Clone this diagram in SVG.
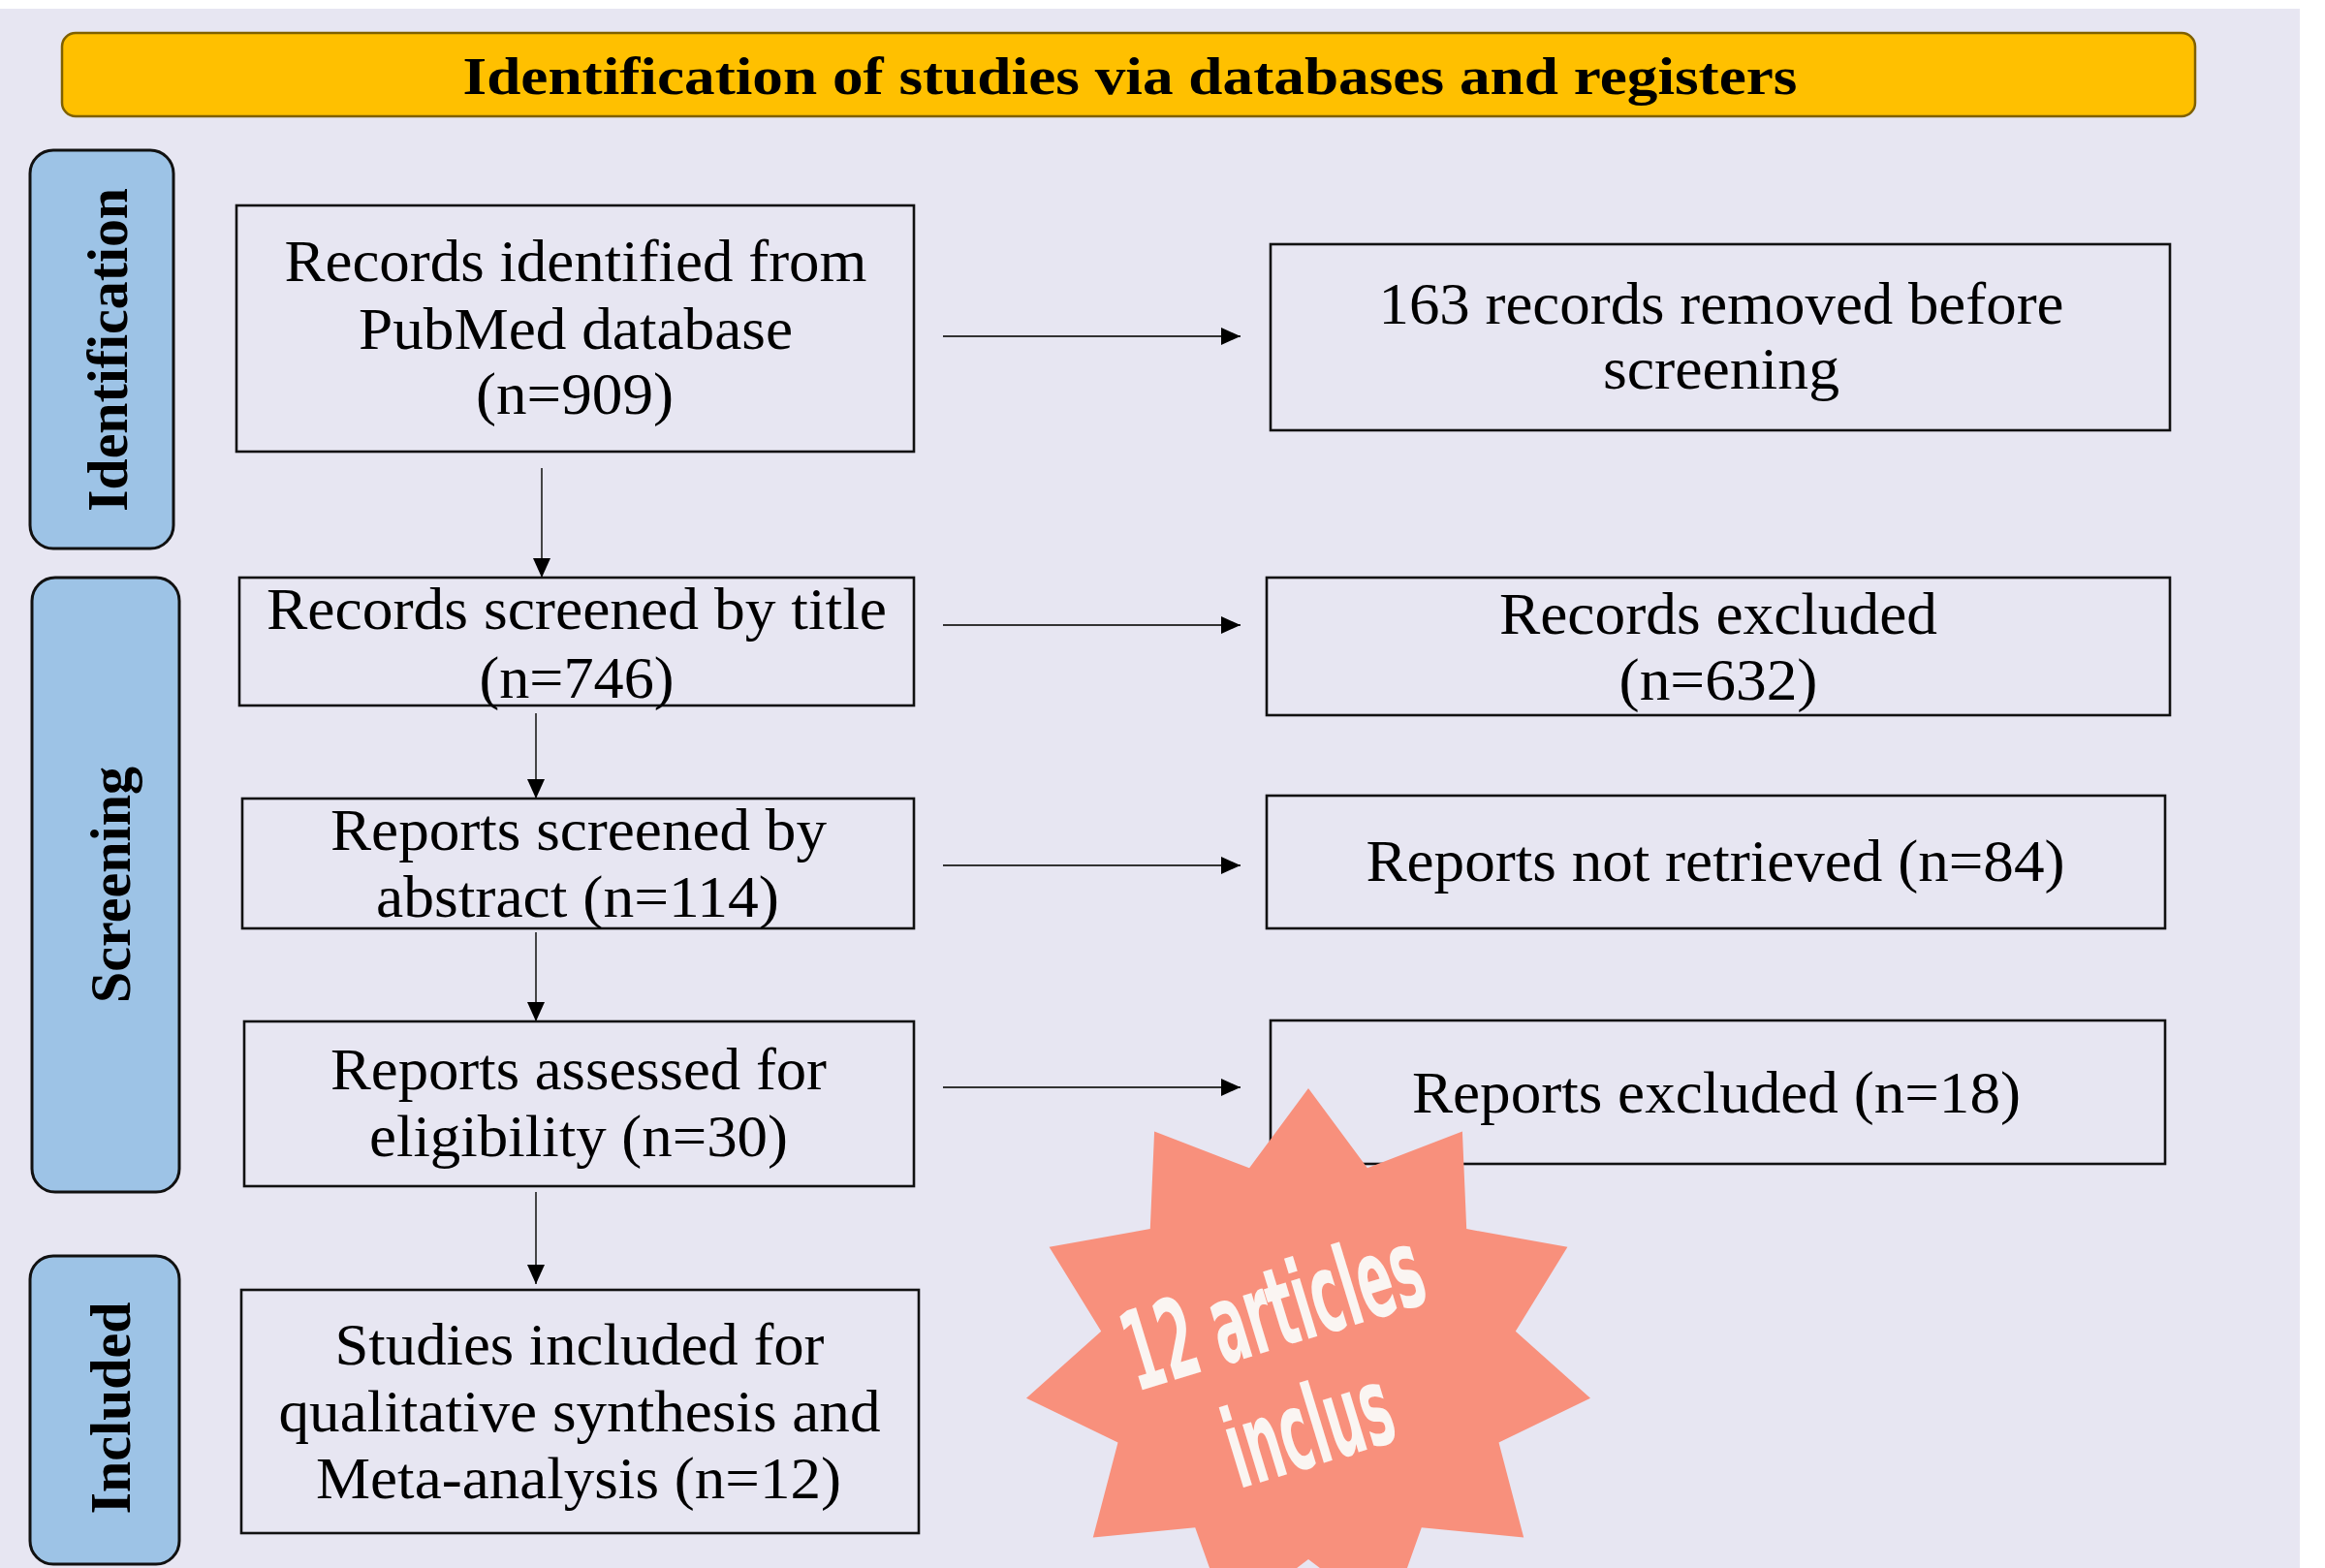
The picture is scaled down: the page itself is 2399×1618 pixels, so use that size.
<svg xmlns="http://www.w3.org/2000/svg" width="2399" height="1618" viewBox="0 0 2399 1618">
<style>
.bg{fill:#E7E6F2}
.box{fill:none;stroke:#111;stroke-width:2.6}
.side{fill:#9DC3E6;stroke:#111;stroke-width:3}
.t{font-family:"Liberation Serif","Times New Roman",serif;font-size:62px;fill:#000;text-anchor:middle}
.sl{font-family:"Liberation Serif","Times New Roman",serif;font-size:60px;font-weight:bold;fill:#000;text-anchor:middle}
.title{font-family:"Liberation Serif","Times New Roman",serif;font-size:54px;font-weight:bold;fill:#000;text-anchor:middle}
.conn{stroke:#333;stroke-width:1.8;fill:none;marker-end:url(#ah)}
.star{font-family:"Liberation Sans Narrow","DejaVu Sans Condensed","Liberation Sans",sans-serif;font-size:114px;font-weight:bold;fill:#FAF5F2;text-anchor:middle}
</style>
<defs>
<marker id="ah" markerUnits="userSpaceOnUse" markerWidth="20" markerHeight="20" viewBox="0 0 20 20" refX="20" refY="10" orient="auto">
<path d="M0,1 L20,10 L0,19 Z" fill="#000"/>
</marker>
</defs>
<rect x="0" y="0" width="2399" height="1618" fill="#FFFFFF"/>
<rect class="bg" x="0" y="9" width="2373" height="1609"/>

<g id="banner">
<rect x="64" y="34" width="2201" height="86" rx="14" fill="#FFC000" stroke="#7F6000" stroke-width="2.5"/>
<text class="title" x="1166" y="97" textLength="1377" lengthAdjust="spacingAndGlyphs">Identification of studies via databases and registers</text>
</g>

<g id="side-identification">
<rect class="side" x="31" y="155" width="148" height="411" rx="24"/>
<text class="sl" transform="translate(131,361) rotate(-90)" textLength="334" lengthAdjust="spacingAndGlyphs">Identification</text>
</g>
<g id="side-screening">
<rect class="side" x="33" y="596" width="152" height="634" rx="24"/>
<text class="sl" transform="translate(134,913) rotate(-90)" textLength="244" lengthAdjust="spacingAndGlyphs">Screening</text>
</g>
<g id="side-included">
<rect class="side" x="31" y="1296" width="154" height="318" rx="24"/>
<text class="sl" transform="translate(134,1453) rotate(-90)" textLength="219" lengthAdjust="spacingAndGlyphs">Included</text>
</g>

<g id="connectors">
<line class="conn" x1="559" y1="483" x2="559" y2="596"/>
<line class="conn" x1="553" y1="736" x2="553" y2="824"/>
<line class="conn" x1="553" y1="962" x2="553" y2="1054"/>
<line class="conn" x1="553" y1="1230" x2="553" y2="1325"/>
<line class="conn" x1="973" y1="347" x2="1280" y2="347"/>
<line class="conn" x1="973" y1="645" x2="1280" y2="645"/>
<line class="conn" x1="973" y1="893" x2="1280" y2="893"/>
<line class="conn" x1="973" y1="1122" x2="1280" y2="1122"/>
</g>

<g id="n-identified">
<rect class="box" x="244" y="212" width="699" height="254"/>
<text class="t" x="594" y="290" textLength="601" lengthAdjust="spacingAndGlyphs">Records identified from</text>
<text class="t" x="594" y="360" textLength="448" lengthAdjust="spacingAndGlyphs">PubMed database</text>
<text class="t" x="593" y="427" textLength="204" lengthAdjust="spacingAndGlyphs">(n=909)</text>
</g>
<g id="n-screened-title">
<rect class="box" x="247" y="596" width="696" height="132"/>
<text class="t" x="595" y="649" textLength="640" lengthAdjust="spacingAndGlyphs">Records screened by title</text>
<text class="t" x="595" y="720" textLength="201" lengthAdjust="spacingAndGlyphs">(n=746)</text>
</g>
<g id="n-screened-abstract">
<rect class="box" x="250" y="824" width="693" height="134"/>
<text class="t" x="597" y="877" textLength="512" lengthAdjust="spacingAndGlyphs">Reports screened by</text>
<text class="t" x="596" y="946" textLength="416" lengthAdjust="spacingAndGlyphs">abstract (n=114)</text>
</g>
<g id="n-assessed">
<rect class="box" x="252" y="1054" width="691" height="170"/>
<text class="t" x="597" y="1124" textLength="512" lengthAdjust="spacingAndGlyphs">Reports assessed for</text>
<text class="t" x="597" y="1193" textLength="432" lengthAdjust="spacingAndGlyphs">eligibility (n=30)</text>
</g>
<g id="n-included">
<rect class="box" x="249" y="1331" width="699" height="251"/>
<text class="t" x="598" y="1408" textLength="505" lengthAdjust="spacingAndGlyphs">Studies included for</text>
<text class="t" x="598" y="1477" textLength="621" lengthAdjust="spacingAndGlyphs">qualitative synthesis and</text>
<text class="t" x="597" y="1546" textLength="542" lengthAdjust="spacingAndGlyphs">Meta-analysis (n=12)</text>
</g>

<g id="n-removed">
<rect class="box" x="1311" y="252" width="928" height="192"/>
<text class="t" x="1776" y="334" textLength="707" lengthAdjust="spacingAndGlyphs">163 records removed before</text>
<text class="t" x="1776" y="401" textLength="244" lengthAdjust="spacingAndGlyphs">screening</text>
</g>
<g id="n-records-excluded">
<rect class="box" x="1307" y="596" width="932" height="142"/>
<text class="t" x="1773" y="654" textLength="452" lengthAdjust="spacingAndGlyphs">Records excluded</text>
<text class="t" x="1773" y="722" textLength="205" lengthAdjust="spacingAndGlyphs">(n=632)</text>
</g>
<g id="n-not-retrieved">
<rect class="box" x="1307" y="821" width="927" height="137"/>
<text class="t" x="1770" y="909" textLength="721" lengthAdjust="spacingAndGlyphs">Reports not retrieved (n=84)</text>
</g>
<g id="n-reports-excluded">
<rect class="box" x="1311" y="1053" width="923" height="148"/>
<text class="t" x="1771" y="1148" textLength="628" lengthAdjust="spacingAndGlyphs">Reports excluded (n=18)</text>
</g>

<g id="starburst">
<polygon fill="#F8907C" points="1350,1123 1410.9,1205.3 1508.9,1167.5 1513.2,1268.1 1617.4,1286.7 1563.8,1373.7 1641,1442.8 1546.5,1488.6 1572.2,1586.4 1466.8,1576.3 1432.8,1671.7 1350,1609 1267.2,1671.7 1233.2,1576.3 1127.8,1586.4 1153.5,1488.6 1059,1442.8 1136.2,1373.7 1082.6,1286.7 1186.8,1268.1 1191.1,1167.5 1289.1,1205.3"/>
<g transform="translate(1324.7,1389.4) rotate(-17)">
<text class="star" x="0" y="0" textLength="318" lengthAdjust="spacingAndGlyphs">12 articles</text>
<text class="star" x="0" y="127" textLength="174" lengthAdjust="spacingAndGlyphs">inclus</text>
</g>
</g>
</svg>
